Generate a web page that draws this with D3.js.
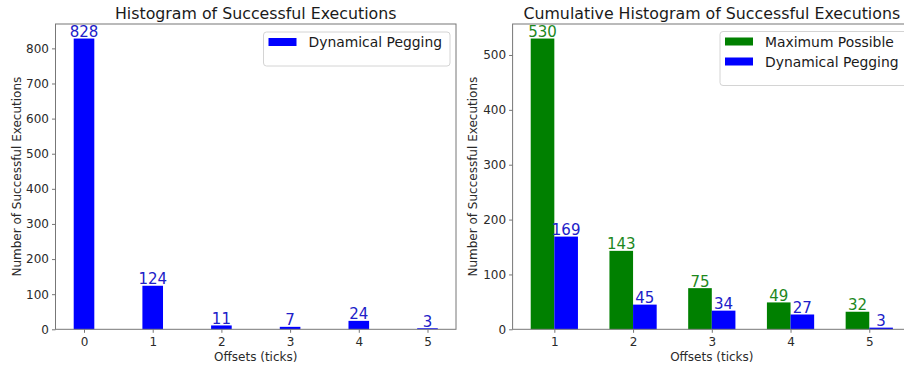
<!DOCTYPE html>
<html>
<head>
<meta charset="utf-8">
<script src="https://cdn.jsdelivr.net/npm/d3@7"></script>
<style>
  html, body { margin: 0; padding: 0; background: #fff; }
  svg { display: block; font-family: "DejaVu Sans", sans-serif; }
</style>
</head>
<body>
<svg id="chart" width="904" height="369"></svg>
<script>
// Histogram of successful executions per offset
const offsets = [0, 1, 2, 3, 4, 5];
const dpCounts = [828, 124, 11, 7, 24, 3];

// Cumulative histogram
const cumOffsets = [1, 2, 3, 4, 5];
const maxPossible = [530, 143, 75, 49, 32];
const dpCumulative = [169, 45, 34, 27, 3];

const leftYTicks = [0, 100, 200, 300, 400, 500, 600, 700, 800];
const rightYTicks = [0, 100, 200, 300, 400, 500];

const BLUE = "#0000ff", GREEN = "#008000";
const BLUE_TXT = "#2020c8", GREEN_TXT = "#1d881d";
const barW = 0.3;

const svg = d3.select("#chart");

function drawAxes(g, x, y, xTicks, yTicks, box, title) {
  // y axis ticks + labels
  const yAxis = d3.axisLeft(y).tickValues(yTicks).tickSize(3.5).tickPadding(3).tickFormat(d3.format("d"));
  const ya = g.append("g").attr("transform", `translate(${box.l},0)`).call(yAxis);
  const xAxis = d3.axisBottom(x).tickValues(xTicks).tickSize(3.5).tickPadding(3).tickFormat(d3.format("d"));
  const xa = g.append("g").attr("transform", `translate(0,${box.b})`).call(xAxis);
  [ya, xa].forEach(a => {
    a.select(".domain").remove();
    a.selectAll(".tick line").attr("stroke", "#666").attr("stroke-width", 0.9);
    a.selectAll(".tick text").attr("fill", "#2a2a2a").style("font-size", "12px").style("font-family", "DejaVu Sans");
  });
  xa.selectAll(".tick text").attr("dy", "0.85em");
  // spines
  g.append("rect").attr("x", box.l).attr("y", box.t)
    .attr("width", box.r - box.l).attr("height", box.b - box.t)
    .attr("fill", "none").attr("stroke", "#777").attr("stroke-width", 1);
  // title
  g.append("text").attr("x", (box.l + box.r) / 2).attr("y", 18.5)
    .attr("text-anchor", "middle").attr("fill", "#1a1a1a").style("font-size", "15.8px")
    .text(title);
  // axis labels
  g.append("text").attr("x", (box.l + box.r) / 2).attr("y", 361)
    .attr("text-anchor", "middle").attr("fill", "#2a2a2a").style("font-size", "12px")
    .text("Offsets (ticks)");
  g.append("text")
    .attr("transform", `translate(${box.ylab},${(box.t + box.b) / 2}) rotate(-90)`)
    .attr("text-anchor", "middle").attr("fill", "#2a2a2a").style("font-size", "12px")
    .text("Number of Successful Executions");
}

function legend(g, x0, y0, w, entries) {
  const h = 10 + entries.length * 20 + 4;
  g.append("rect").attr("x", x0).attr("y", y0).attr("width", w).attr("height", h)
    .attr("rx", 3).attr("fill", "#fff").attr("fill-opacity", 0.8)
    .attr("stroke", "#d4d4d4").attr("stroke-width", 1);
  entries.forEach((e, i) => {
    const cy = y0 + 10 + i * 20;
    g.append("rect").attr("x", x0 + 5).attr("y", cy - 4).attr("width", 28).attr("height", 8).attr("fill", e.color);
    g.append("text").attr("x", x0 + 45).attr("y", cy).attr("dy", "0.36em")
      .attr("fill", "#1a1a1a").style("font-size", "13.9px").text(e.label);
  });
}

// ---- Left panel ----
const boxL = { l: 55.5, r: 456, t: 24, b: 329.3, ylab: 21 };
const xL = d3.scaleLinear().domain([-0.415, 5.415]).range([boxL.l, boxL.r]);
const yL = d3.scaleLinear().domain([0, 869.4]).range([boxL.b, boxL.t]);
const gL = svg.append("g");

gL.selectAll("rect.bar").data(offsets).join("rect").attr("class", "bar")
  .attr("x", (d) => xL(d - barW / 2))
  .attr("width", xL(barW) - xL(0))
  .attr("y", (d, i) => yL(dpCounts[i]))
  .attr("height", (d, i) => yL(0) - yL(dpCounts[i]))
  .attr("fill", BLUE);

gL.selectAll("text.val").data(offsets).join("text").attr("class", "val")
  .attr("x", d => xL(d)).attr("y", (d, i) => yL(dpCounts[i]) - 1.5)
  .attr("text-anchor", "middle").attr("fill", BLUE_TXT).style("font-size", "15px")
  .text((d, i) => dpCounts[i]);

drawAxes(gL, xL, yL, offsets, leftYTicks, boxL, "Histogram of Successful Executions");
legend(gL, 263.5, 32, 186.5, [{ label: "Dynamical Pegging", color: BLUE }]);

// ---- Right panel ----
const boxR = { l: 512.6, r: 911, t: 24, b: 329.3, ylab: 477 };
const xR = d3.scaleLinear().domain([0.47, 5.53]).range([boxR.l, boxR.r]);
const yR = d3.scaleLinear().domain([0, 556.5]).range([boxR.b, boxR.t]);
const gR = svg.append("g");

// green bars sit left of the tick, blue bars right of it
gR.selectAll("rect.max").data(cumOffsets).join("rect").attr("class", "max")
  .attr("x", d => xR(d - barW)).attr("width", xR(barW) - xR(0))
  .attr("y", (d, i) => yR(maxPossible[i])).attr("height", (d, i) => yR(0) - yR(maxPossible[i]))
  .attr("fill", GREEN);
gR.selectAll("rect.dp").data(cumOffsets).join("rect").attr("class", "dp")
  .attr("x", d => xR(d)).attr("width", xR(barW) - xR(0))
  .attr("y", (d, i) => yR(dpCumulative[i])).attr("height", (d, i) => yR(0) - yR(dpCumulative[i]))
  .attr("fill", BLUE);

gR.selectAll("text.maxv").data(cumOffsets).join("text").attr("class", "maxv")
  .attr("x", d => xR(d - barW / 2)).attr("y", (d, i) => yR(maxPossible[i]) - 1.5)
  .attr("text-anchor", "middle").attr("fill", GREEN_TXT).style("font-size", "15px")
  .text((d, i) => maxPossible[i]);
gR.selectAll("text.dpv").data(cumOffsets).join("text").attr("class", "dpv")
  .attr("x", d => xR(d + barW / 2)).attr("y", (d, i) => yR(dpCumulative[i]) - 1.5)
  .attr("text-anchor", "middle").attr("fill", BLUE_TXT).style("font-size", "15px")
  .text((d, i) => dpCumulative[i]);

drawAxes(gR, xR, yR, cumOffsets, rightYTicks, boxR, "Cumulative Histogram of Successful Executions");
legend(gR, 720, 31.5, 190, [
  { label: "Maximum Possible", color: GREEN },
  { label: "Dynamical Pegging", color: BLUE }
]);
</script>
</body>
</html>
